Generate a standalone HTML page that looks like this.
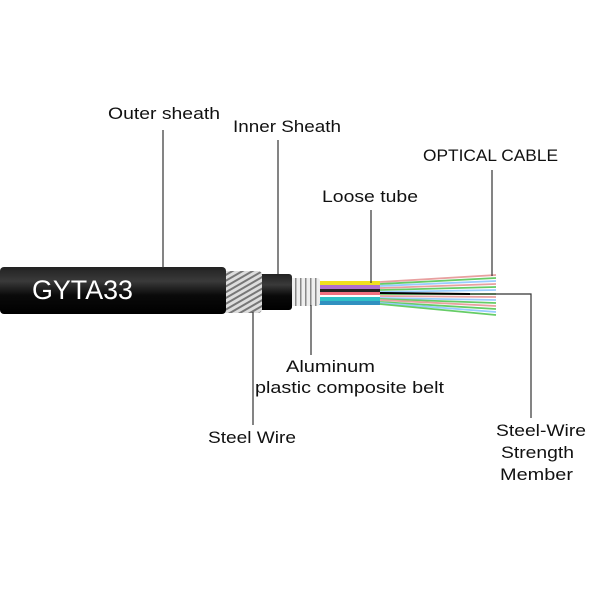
<!DOCTYPE html>
<html><head><style>
body{margin:0;background:#fff}
svg text{font-family:"Liberation Sans",sans-serif;fill:#111}
</style></head><body>
<svg width="600" height="600" viewBox="0 0 600 600" xmlns="http://www.w3.org/2000/svg">
<defs>
<linearGradient id="blk" x1="0" y1="0" x2="0" y2="1">
<stop offset="0" stop-color="#222"/><stop offset="0.3" stop-color="#3a3a3a"/><stop offset="0.6" stop-color="#0a0a0a"/><stop offset="1" stop-color="#000"/></linearGradient>
<pattern id="wire" width="5" height="5" patternUnits="userSpaceOnUse" patternTransform="rotate(60)">
<rect width="5" height="5" fill="#ddd"/><rect width="2" height="5" fill="#777"/></pattern>
<pattern id="al" width="5" height="40" patternUnits="userSpaceOnUse">
<rect width="5" height="40" fill="#eee"/><rect width="1.5" height="40" fill="#888"/></pattern>
</defs>
<!-- fibers -->
<g stroke-width="1.8">
<line x1="380" y1="282" x2="496" y2="275" stroke="#e8a0a0"/>
<line x1="380" y1="284" x2="496" y2="278" stroke="#6c6"/>
<line x1="380" y1="286" x2="496" y2="281" stroke="#9cf"/>
<line x1="380" y1="288" x2="496" y2="284" stroke="#e8a0a0"/>
<line x1="380" y1="290" x2="496" y2="287" stroke="#6c6"/>
<line x1="380" y1="292" x2="496" y2="290" stroke="#9cf"/>
<line x1="380" y1="294" x2="496" y2="294" stroke="#6c6"/>
<line x1="380" y1="296" x2="496" y2="297" stroke="#e8a0a0"/>
<line x1="380" y1="298" x2="496" y2="300" stroke="#9cf"/>
<line x1="380" y1="299" x2="496" y2="303" stroke="#6c6"/>
<line x1="380" y1="300" x2="496" y2="306" stroke="#e8a0a0"/>
<line x1="380" y1="302" x2="496" y2="309" stroke="#6c6"/>
<line x1="380" y1="303" x2="496" y2="312" stroke="#9cf"/>
<line x1="380" y1="304" x2="496" y2="315" stroke="#6c6"/>
</g>
<line x1="380" y1="293" x2="470" y2="294" stroke="#000" stroke-width="2"/>
<!-- loose tubes -->
<rect x="318" y="281" width="62" height="4" fill="#f0e020"/>
<rect x="318" y="285" width="62" height="4" fill="#b070d0"/>
<rect x="318" y="289" width="62" height="3" fill="#222"/>
<rect x="318" y="292" width="62" height="3" fill="#f07080"/>
<rect x="318" y="295" width="62" height="2" fill="#fff"/>
<rect x="318" y="297" width="62" height="4" fill="#30c0c8"/>
<rect x="318" y="301" width="62" height="4" fill="#3090c0"/>
<!-- aluminum -->
<rect x="288" y="278" width="32" height="28" rx="3" fill="url(#al)"/>
<!-- inner sheath -->
<rect x="258" y="274" width="34" height="36" rx="3" fill="url(#blk)"/>
<!-- steel wire -->
<rect x="216" y="271" width="46" height="42" rx="4" fill="url(#wire)"/>
<!-- outer sheath -->
<rect x="0" y="267" width="226" height="47" rx="4" fill="url(#blk)"/>
<text x="32" y="299" font-size="27" textLength="101" lengthAdjust="spacingAndGlyphs" style="fill:#fff">GYTA33</text>
<!-- leader lines -->
<g stroke="#333" stroke-width="1.2" fill="none">
<line x1="163" y1="130" x2="163" y2="268"/>
<line x1="278" y1="140" x2="278" y2="274"/>
<line x1="371" y1="210" x2="371" y2="283"/>
<line x1="492" y1="170" x2="492" y2="276"/>
<line x1="253" y1="312" x2="253" y2="425"/>
<line x1="311" y1="305" x2="311" y2="355"/>
<polyline points="470,294 531,294 531,418"/>
</g>
<g font-size="17" lengthAdjust="spacingAndGlyphs">
<text x="108" y="119" textLength="112" lengthAdjust="spacingAndGlyphs">Outer sheath</text>
<text x="233" y="132" textLength="108" lengthAdjust="spacingAndGlyphs">Inner Sheath</text>
<text x="322" y="202" textLength="96" lengthAdjust="spacingAndGlyphs">Loose tube</text>
<text x="423" y="161" textLength="135" lengthAdjust="spacingAndGlyphs">OPTICAL CABLE</text>
<text x="286" y="372" textLength="89" lengthAdjust="spacingAndGlyphs">Aluminum</text>
<text x="255" y="393" textLength="189" lengthAdjust="spacingAndGlyphs">plastic composite belt</text>
<text x="208" y="443" textLength="88" lengthAdjust="spacingAndGlyphs">Steel Wire</text>
<text x="496" y="436" textLength="90" lengthAdjust="spacingAndGlyphs">Steel-Wire</text>
<text x="501" y="458" textLength="73" lengthAdjust="spacingAndGlyphs">Strength</text>
<text x="500" y="480" textLength="73" lengthAdjust="spacingAndGlyphs">Member</text>
</g>
</svg>
</body></html>
